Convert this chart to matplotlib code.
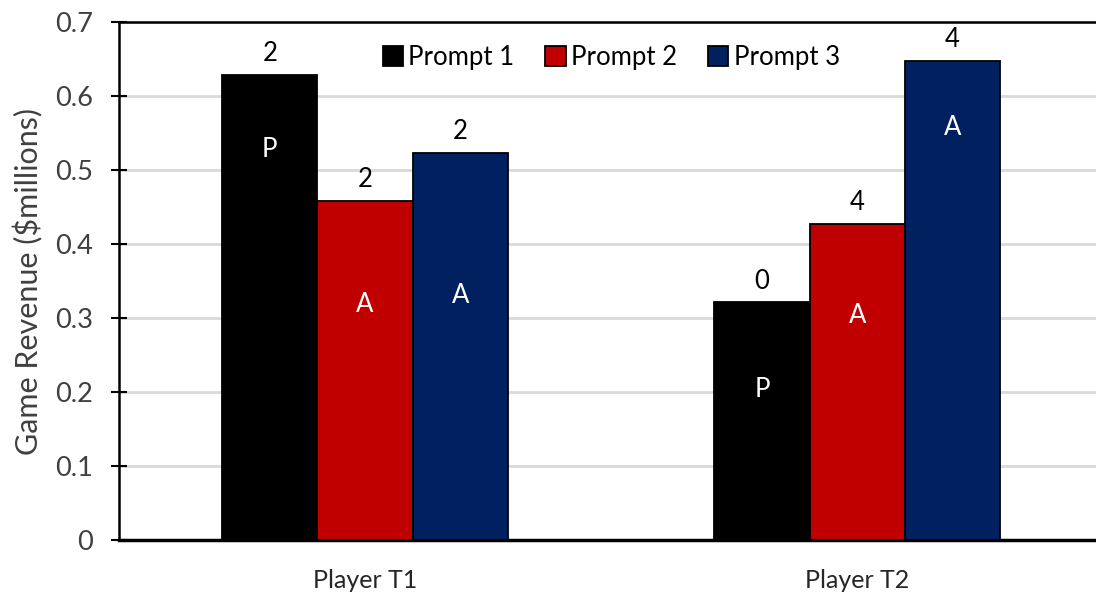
import numpy as np
import matplotlib
matplotlib.use('Agg')
from matplotlib import pyplot as plt

plt.rcParams['font.family'] = ['Lato', 'DejaVu Sans']

categories = ['Player T1', 'Player T2']
series_names = ['Prompt 1', 'Prompt 2', 'Prompt 3']
prompt1 = [0.628, 0.321]
prompt2 = [0.458, 0.427]
prompt3 = [0.523, 0.648]
# numbers written above each bar
counts1 = [2, 0]
counts2 = [2, 4]
counts3 = [2, 4]
# letters written inside each bar, and the height they sit at
codes1 = ['P', 'P']
codes2 = ['A', 'A']
codes3 = ['A', 'A']
code_y1 = [0.528, 0.204]
code_y2 = [0.318, 0.304]
code_y3 = [0.331, 0.557]

colors = ['#000000', '#C00000', '#002060']

fig = plt.figure(figsize=(10.96, 5.92), dpi=100)
ax = fig.add_axes([0.1086, 0.0878, 0.898, 0.875])

x = np.arange(len(categories))
width = 0.1935
offsets = [-width, 0, width]
values = [prompt1, prompt2, prompt3]
counts = [counts1, counts2, counts3]
codes = [codes1, codes2, codes3]
code_ys = [code_y1, code_y2, code_y3]

for i in range(3):
    bars = ax.bar(x + offsets[i], values[i], width, color=colors[i],
                  edgecolor='black', linewidth=1.3, label=series_names[i], zorder=3)
    for j, b in enumerate(bars):
        cx = b.get_x() + b.get_width() / 2
        ax.annotate(str(counts[i][j]), (cx, b.get_height()), xytext=(0, 10),
                    textcoords='offset points', ha='center', va='baseline',
                    fontsize=18.5, color='black')
        ax.text(cx, code_ys[i][j], codes[i][j], ha='center', va='center',
                fontsize=18.5, color='white', zorder=4)

ax.set_xlim(-0.5, 1.5)
ax.set_ylim(0, 0.7)
ax.set_yticks(np.arange(0, 0.71, 0.1))
ax.set_yticklabels(['0', '0.1', '0.2', '0.3', '0.4', '0.5', '0.6', '0.7'])
ax.set_xticks(x)
ax.set_xticklabels(categories)

ax.yaxis.grid(True, color='#d9d9d9', linewidth=2, zorder=0)
ax.set_axisbelow(True)

ax.tick_params(axis='y', direction='inout', length=12, width=1.5, pad=13,
               labelsize=19.5, labelcolor='#404040')
ax.tick_params(axis='x', length=0, pad=21, labelsize=18, labelcolor='#262626')

for s in ['left', 'top']:
    ax.spines[s].set_linewidth(1.8)
ax.spines['bottom'].set_linewidth(2.5)
ax.spines['right'].set_visible(False)

ax.set_ylabel('Game Revenue ($millions)', fontsize=22, color='#404040', labelpad=8)

ax.legend(loc='center', bbox_to_anchor=(0.5, 0.932), ncol=3, frameon=False,
          fontsize=18.5, handlelength=0.8, handleheight=0.8, handletextpad=0.2,
          columnspacing=1.2, borderaxespad=0)

fig.savefig('out.png', dpi=100)
